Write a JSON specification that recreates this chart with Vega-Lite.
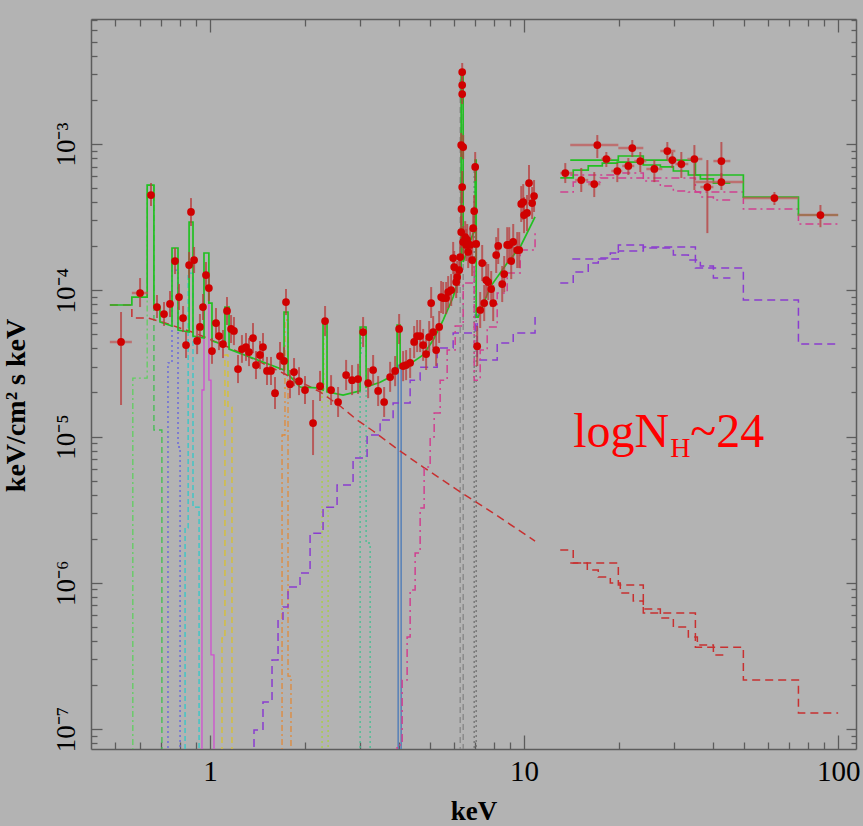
{
"$schema": "https://vega.github.io/schema/vega-lite/v6.json",
"width": 765, "height": 730,
"autosize": {"type": "none"},
"padding": {"left": 91, "top": 19, "right": 7, "bottom": 77},
"background": "#b3b3b3",
"config": {
 "view": {"stroke": null},
 "axis": {"labelFont": "Liberation Serif", "titleFont": "Liberation Serif", "domainColor": "#5c5c5c", "domainWidth": 1.5, "tickColor": "#5c5c5c", "tickWidth": 1.3, "grid": false, "labelColor": "#000000", "titleColor": "#000000"}
},
"datasets": {
"pts": [
{"x":0.521,"y":4.43e-5,"lo":1.642e-5,"hi":7.10e-5,"xl":0.480,"xh":0.564},
{"x":0.599,"y":9.58e-5,"lo":7.68e-5,"hi":1.212e-4,"xl":0.564,"xh":0.635},
{"x":0.649,"y":4.48e-4,"lo":3.77e-4,"hi":5.41e-4,"xl":0.631,"xh":0.663},
{"x":0.678,"y":7.68e-5,"lo":6.46e-5,"hi":9.28e-5},
{"x":0.714,"y":6.88e-5,"lo":5.70e-5,"hi":8.31e-5},
{"x":0.746,"y":8.06e-5,"lo":6.56e-5,"hi":9.88e-5},
{"x":0.774,"y":1.585e-4,"lo":1.291e-4,"hi":1.946e-4},
{"x":0.797,"y":8.99e-5,"lo":7.33e-5,"hi":1.103e-4},
{"x":0.821,"y":6.46e-5,"lo":5.18e-5,"hi":7.81e-5},
{"x":0.839,"y":4.22e-5,"lo":3.44e-5,"hi":5.18e-5},
{"x":0.858,"y":1.488e-4,"lo":1.212e-4,"hi":1.827e-4},
{"x":0.870,"y":3.43e-4,"lo":2.75e-4,"hi":4.27e-4},
{"x":0.890,"y":1.61e-4,"lo":1.312e-4,"hi":1.977e-4},
{"x":0.910,"y":4.50e-5,"lo":3.66e-5,"hi":5.52e-5},
{"x":0.929,"y":5.61e-5,"lo":4.57e-5,"hi":6.88e-5},
{"x":0.950,"y":7.68e-5,"lo":6.26e-5,"hi":9.43e-5},
{"x":0.971,"y":1.271e-4,"lo":1.036e-4,"hi":1.560e-4},
{"x":0.992,"y":1.036e-4,"lo":8.45e-5,"hi":1.271e-4},
{"x":1.0148,"y":3.84e-5,"lo":3.14e-5,"hi":4.71e-5},
{"x":1.045,"y":5.97e-5,"lo":4.71e-5,"hi":7.56e-5},
{"x":1.068,"y":4.86e-5,"lo":3.90e-5,"hi":6.07e-5},
{"x":1.100,"y":4.29e-5,"lo":3.44e-5,"hi":5.35e-5},
{"x":1.133,"y":7.22e-5,"lo":5.79e-5,"hi":8.99e-5},
{"x":1.167,"y":5.44e-5,"lo":4.36e-5,"hi":6.77e-5},
{"x":1.192,"y":5.27e-5,"lo":4.22e-5,"hi":6.56e-5},
{"x":1.228,"y":2.89e-5,"lo":2.32e-5,"hi":3.61e-5},
{"x":1.264,"y":3.96e-5,"lo":3.19e-5,"hi":4.94e-5},
{"x":1.302,"y":4.09e-5,"lo":3.29e-5,"hi":5.10e-5},
{"x":1.331,"y":3.78e-5,"lo":3.03e-5,"hi":4.71e-5},
{"x":1.371,"y":4.71e-5,"lo":3.72e-5,"hi":5.97e-5},
{"x":1.401,"y":3.08e-5,"lo":2.47e-5,"hi":3.84e-5},
{"x":1.443,"y":3.61e-5,"lo":2.89e-5,"hi":4.50e-5},
{"x":1.475,"y":4.09e-5,"lo":3.29e-5,"hi":5.10e-5},
{"x":1.519,"y":2.81e-5,"lo":2.25e-5,"hi":3.50e-5},
{"x":1.564,"y":2.81e-5,"lo":2.25e-5,"hi":3.50e-5},
{"x":1.611,"y":1.98e-5,"lo":1.542e-5,"hi":2.55e-5},
{"x":1.671,"y":3.55e-5,"lo":2.85e-5,"hi":4.43e-5},
{"x":1.721,"y":3.29e-5,"lo":2.63e-5,"hi":4.09e-5},
{"x":1.746,"y":8.31e-5,"lo":6.77e-5,"hi":1.020e-4},
{"x":1.798,"y":2.28e-5,"lo":1.83e-5,"hi":2.85e-5},
{"x":1.852,"y":2.76e-5,"lo":2.21e-5,"hi":3.44e-5},
{"x":1.921,"y":2.39e-5,"lo":1.92e-5,"hi":2.98e-5},
{"x":2.007,"y":2.08e-5,"lo":1.669e-5,"hi":2.59e-5},
{"x":2.129,"y":1.237e-5,"lo":7.47e-6,"hi":1.777e-5},
{"x":2.241,"y":2.21e-5,"lo":1.749e-5,"hi":2.81e-5},
{"x":2.325,"y":6.16e-5,"lo":4.86e-5,"hi":7.81e-5},
{"x":2.430,"y":2.08e-5,"lo":1.642e-5,"hi":2.63e-5},
{"x":2.558,"y":1.722e-5,"lo":1.360e-5,"hi":2.18e-5},
{"x":2.713,"y":2.63e-5,"lo":2.08e-5,"hi":3.34e-5},
{"x":2.834,"y":2.43e-5,"lo":1.92e-5,"hi":3.08e-5},
{"x":2.962,"y":2.47e-5,"lo":1.953e-5,"hi":3.14e-5},
{"x":3.073,"y":5.18e-5,"lo":4.09e-5,"hi":6.56e-5},
{"x":3.188,"y":2.32e-5,"lo":1.83e-5,"hi":2.94e-5},
{"x":3.307,"y":2.85e-5,"lo":2.25e-5,"hi":3.61e-5},
{"x":3.431,"y":2.05e-5,"lo":1.616e-5,"hi":2.59e-5},
{"x":3.585,"y":1.722e-5,"lo":1.360e-5,"hi":2.18e-5},
{"x":3.746,"y":2.55e-5,"lo":2.02e-5,"hi":3.24e-5},
{"x":3.886,"y":2.81e-5,"lo":2.21e-5,"hi":3.55e-5},
{"x":4.002,"y":5.44e-5,"lo":4.29e-5,"hi":6.88e-5},
{"x":4.120,"y":3.03e-5,"lo":2.39e-5,"hi":3.84e-5},
{"x":4.212,"y":3.08e-5,"lo":2.43e-5,"hi":3.90e-5},
{"x":4.338,"y":3.19e-5,"lo":2.51e-5,"hi":4.03e-5},
{"x":4.467,"y":4.43e-5,"lo":3.44e-5,"hi":5.70e-5},
{"x":4.567,"y":4.86e-5,"lo":3.78e-5,"hi":6.26e-5},
{"x":4.668,"y":4.86e-5,"lo":3.78e-5,"hi":6.26e-5},
{"x":4.772,"y":4.22e-5,"lo":3.29e-5,"hi":5.44e-5},
{"x":4.878,"y":3.66e-5,"lo":2.85e-5,"hi":4.71e-5},
{"x":4.987,"y":4.79e-5,"lo":3.72e-5,"hi":6.16e-5},
{"x":5.061,"y":8.18e-5,"lo":6.46e-5,"hi":1.052e-4},
{"x":5.136,"y":5.18e-5,"lo":4.03e-5,"hi":6.66e-5},
{"x":5.250,"y":3.90e-5,"lo":3.03e-5,"hi":5.02e-5},
{"x":5.367,"y":5.61e-5,"lo":4.36e-5,"hi":7.22e-5},
{"x":5.446,"y":8.99e-5,"lo":6.99e-5,"hi":1.157e-4},
{"x":5.526,"y":8.85e-5,"lo":6.88e-5,"hi":1.139e-4},
{"x":5.649,"y":8.85e-5,"lo":6.88e-5,"hi":1.139e-4},
{"x":5.733,"y":9.73e-5,"lo":7.56e-5,"hi":1.251e-4},
{"x":5.861,"y":1.004e-4,"lo":7.81e-5,"hi":1.291e-4},
{"x":5.947,"y":1.662e-4,"lo":1.291e-4,"hi":2.14e-4},
{"x":5.991,"y":1.442e-4,"lo":1.121e-4,"hi":1.856e-4},
{"x":6.080,"y":1.139e-4,"lo":8.85e-5,"hi":1.465e-4},
{"x":6.125,"y":1.232e-4,"lo":9.58e-5,"hi":1.585e-4},
{"x":6.215,"y":1.375e-4,"lo":1.069e-4,"hi":1.770e-4},
{"x":6.261,"y":1.688e-4,"lo":1.312e-4,"hi":2.176e-4},
{"x":6.307,"y":2.50e-4,"lo":1.946e-4,"hi":3.22e-4},
{"x":6.320,"y":3.60e-4,"lo":2.79e-4,"hi":4.70e-4},
{"x":6.354,"y":5.08e-4,"lo":3.95e-4,"hi":6.54e-4},
{"x":6.307,"y":9.84e-4,"lo":8.15e-4,"hi":1.190e-3},
{"x":6.400,"y":9.54e-4,"lo":7.90e-4,"hi":1.152e-3},
{"x":6.354,"y":2.197e-3,"lo":1.878e-3,"hi":2.572e-3},
{"x":6.354,"y":2.532e-3,"lo":2.163e-3,"hi":2.963e-3},
{"x":6.354,"y":3.107e-3,"lo":2.654e-3,"hi":3.580e-3},
{"x":6.400,"y":2.14e-4,"lo":1.662e-4,"hi":2.75e-4},
{"x":6.495,"y":2.311e-4,"lo":1.798e-4,"hi":2.97e-4},
{"x":6.543,"y":2.04e-4,"lo":1.585e-4,"hi":2.62e-4},
{"x":6.591,"y":2.21e-4,"lo":1.715e-4,"hi":2.84e-4},
{"x":6.640,"y":1.827e-4,"lo":1.419e-4,"hi":2.348e-4},
{"x":6.737,"y":2.04e-4,"lo":1.585e-4,"hi":2.62e-4},
{"x":6.837,"y":1.61e-4,"lo":1.251e-4,"hi":2.075e-4},
{"x":6.887,"y":2.66e-4,"lo":2.075e-4,"hi":3.43e-4},
{"x":6.938,"y":3.48e-4,"lo":2.70e-4,"hi":4.48e-4},
{"x":6.989,"y":6.97e-4,"lo":5.58e-4,"hi":8.82e-4},
{"x":7.040,"y":2.075e-4,"lo":1.61e-4,"hi":2.66e-4},
{"x":7.092,"y":4.15e-5,"lo":3.03e-5,"hi":5.70e-5},
{"x":7.25,"y":7.33e-5,"lo":5.52e-5,"hi":9.73e-5},
{"x":7.357,"y":1.536e-4,"lo":1.157e-4,"hi":2.04e-4},
{"x":7.466,"y":8.18e-5,"lo":6.16e-5,"hi":1.086e-4},
{"x":7.576,"y":1.175e-4,"lo":8.85e-5,"hi":1.560e-4},
{"x":7.689,"y":1.139e-4,"lo":8.58e-5,"hi":1.512e-4},
{"x":7.860,"y":1.020e-4,"lo":7.68e-5,"hi":1.354e-4},
{"x":7.975,"y":8.18e-5,"lo":6.16e-5,"hi":1.086e-4},
{"x":8.153,"y":1.742e-4,"lo":1.312e-4,"hi":2.311e-4},
{"x":8.274,"y":2.008e-4,"lo":1.512e-4,"hi":2.66e-4},
{"x":8.520,"y":1.103e-4,"lo":8.31e-5,"hi":1.465e-4},
{"x":8.646,"y":1.291e-4,"lo":9.73e-5,"hi":1.715e-4},
{"x":8.838,"y":2.04e-4,"lo":1.536e-4,"hi":2.70e-4},
{"x":8.969,"y":2.04e-4,"lo":1.536e-4,"hi":2.70e-4},
{"x":9.102,"y":1.585e-4,"lo":1.193e-4,"hi":2.108e-4},
{"x":9.236,"y":2.14e-4,"lo":1.61e-4,"hi":2.84e-4},
{"x":9.511,"y":1.885e-4,"lo":1.419e-4,"hi":2.50e-4},
{"x":9.652,"y":1.885e-4,"lo":1.419e-4,"hi":2.50e-4},
{"x":9.795,"y":3.89e-4,"lo":2.93e-4,"hi":5.16e-4},
{"x":9.939,"y":4.01e-4,"lo":3.02e-4,"hi":5.32e-4},
{"x":10.0,"y":3.27e-4,"lo":2.46e-4,"hi":4.34e-4},
{"x":10.22,"y":3.38e-4,"lo":2.54e-4,"hi":4.48e-4},
{"x":10.37,"y":5.41e-4,"lo":4.08e-4,"hi":7.19e-4},
{"x":10.61,"y":3.95e-4,"lo":3.07e-4,"hi":5.08e-4},
{"x":10.76,"y":4.41e-4,"lo":3.43e-4,"hi":5.67e-4},
{"x":13.53,"y":6.33e-4,"lo":5.41e-4,"hi":7.41e-4,"xl":13.04,"xh":14.34},
{"x":15.21,"y":5.67e-4,"lo":4.70e-4,"hi":6.86e-4,"xl":14.55,"xh":16.01},
{"x":16.73,"y":5.32e-4,"lo":4.34e-4,"hi":6.43e-4,"xl":16.01,"xh":17.49},
{"x":17.11,"y":9.84e-4,"lo":8.02e-4,"hi":1.152e-3,"xl":14.03,"xh":19.96},
{"x":18.28,"y":7.90e-4,"lo":6.97e-4,"hi":8.82e-4,"xl":17.62,"xh":18.96},
{"x":19.81,"y":6.54e-4,"lo":5.49e-4,"hi":7.41e-4,"xl":18.96,"xh":20.55},
{"x":21.48,"y":7.08e-4,"lo":6.14e-4,"hi":8.02e-4,"xl":20.55,"xh":22.44},
{"x":22.11,"y":9.39e-4,"lo":8.15e-4,"hi":1.065e-3,"xl":19.96,"xh":23.97},
{"x":23.45,"y":7.65e-4,"lo":6.43e-4,"hi":8.82e-4,"xl":22.44,"xh":24.51},
{"x":25.99,"y":6.75e-4,"lo":5.49e-4,"hi":7.77e-4,"xl":24.51,"xh":27.56},
{"x":28.59,"y":8.96e-4,"lo":7.77e-4,"hi":1.032e-3,"xl":27.16,"xh":30.32},
{"x":29.66,"y":7.77e-4,"lo":6.86e-4,"hi":8.82e-4,"xl":28.59,"xh":30.77},
{"x":31.68,"y":7.30e-4,"lo":5.86e-4,"hi":8.82e-4,"xl":30.32,"xh":33.35},
{"x":34.86,"y":7.90e-4,"lo":4.85e-4,"hi":9.84e-4,"xl":33.11,"xh":36.96},
{"x":38.34,"y":5.08e-4,"lo":2.46e-4,"hi":7.77e-4,"xl":36.42,"xh":40.07},
{"x":42.49,"y":7.65e-4,"lo":5.41e-4,"hi":1.032e-3,"xl":40.07,"xh":45.39},
{"x":42.49,"y":5.49e-4,"lo":4.85e-4,"hi":6.33e-4,"xl":35.12,"xh":49.92},
{"x":62.68,"y":4.27e-4,"lo":3.83e-4,"hi":4.70e-4,"xl":49.92,"xh":74.75},
{"x":87.84,"y":3.27e-4,"lo":2.70e-4,"hi":3.83e-4,"xl":74.75,"xh":100}
],
"mdl": [
{"g":"c","s":"c1","i":0,"x":0.568,"y":5e-8},{"g":"c","s":"c1","i":1,"x":0.568,"y":2.51e-5},{"g":"c","s":"c1","i":2,"x":0.631,"y":2.51e-5},{"g":"c","s":"c1","i":3,"x":0.631,"y":5.24e-4},{"g":"c","s":"c1","i":4,"x":0.663,"y":5.24e-4},
{"g":"c","s":"c2","i":0,"x":0.663,"y":5.24e-4},{"g":"c","s":"c2","i":1,"x":0.663,"y":1.108e-5},{"g":"c","s":"c2","i":2,"x":0.703,"y":1.108e-5},{"g":"c","s":"c2","i":3,"x":0.703,"y":5e-8},
{"g":"c","s":"c3","i":0,"x":0.735,"y":5e-8},{"g":"c","s":"c3","i":1,"x":0.735,"y":3.19e-5},{"g":"c","s":"c3","i":2,"x":0.757,"y":3.19e-5},{"g":"c","s":"c3","i":3,"x":0.757,"y":1.375e-4},{"g":"c","s":"c3","i":4,"x":0.791,"y":1.375e-4},{"g":"c","s":"c3","i":5,"x":0.791,"y":8.48e-6},{"g":"c","s":"c3","i":6,"x":0.803,"y":8.48e-6},{"g":"c","s":"c3","i":7,"x":0.803,"y":5e-8},
{"g":"c","s":"c4","i":0,"x":0.833,"y":5e-8},{"g":"c","s":"c4","i":1,"x":0.833,"y":2.37e-6},{"g":"c","s":"c4","i":2,"x":0.852,"y":2.37e-6},{"g":"c","s":"c4","i":3,"x":0.852,"y":1.312e-4},{"g":"c","s":"c4","i":4,"x":0.883,"y":1.312e-4},{"g":"c","s":"c4","i":5,"x":0.883,"y":3.29e-6},{"g":"c","s":"c4","i":6,"x":0.923,"y":3.29e-6},{"g":"c","s":"c4","i":7,"x":0.923,"y":5e-8},
{"g":"c","s":"c5","i":0,"x":0.943,"y":5e-8},{"g":"c","s":"c5","i":1,"x":0.943,"y":2.08e-5},{"g":"c","s":"c5","i":2,"x":0.957,"y":2.08e-5},{"g":"c","s":"c5","i":3,"x":0.957,"y":1.312e-4},{"g":"c","s":"c5","i":4,"x":0.992,"y":1.312e-4},{"g":"c","s":"c5","i":5,"x":0.992,"y":2.43e-5},{"g":"c","s":"c5","i":6,"x":1.0074,"y":2.43e-5},{"g":"c","s":"c5","i":7,"x":1.0074,"y":3.21e-7},{"g":"c","s":"c5","i":8,"x":1.0298,"y":3.21e-7},{"g":"c","s":"c5","i":9,"x":1.0298,"y":5e-8},
{"g":"c","s":"c6","i":0,"x":1.092,"y":5e-8},{"g":"c","s":"c6","i":1,"x":1.092,"y":4.19e-7},{"g":"c","s":"c6","i":2,"x":1.116,"y":4.19e-7},{"g":"c","s":"c6","i":3,"x":1.116,"y":3.61e-5},{"g":"c","s":"c6","i":4,"x":1.141,"y":3.61e-5},{"g":"c","s":"c6","i":5,"x":1.141,"y":1.591e-5},{"g":"c","s":"c6","i":6,"x":1.175,"y":1.591e-5},{"g":"c","s":"c6","i":7,"x":1.175,"y":5e-8},
{"g":"c","s":"c7","i":0,"x":1.696,"y":5e-8},{"g":"c","s":"c7","i":1,"x":1.696,"y":1.024e-5},{"g":"c","s":"c7","i":2,"x":1.733,"y":1.024e-5},{"g":"c","s":"c7","i":3,"x":1.733,"y":6.26e-5},{"g":"c","s":"c7","i":4,"x":1.772,"y":6.26e-5},{"g":"c","s":"c7","i":5,"x":1.772,"y":2.30e-7},{"g":"c","s":"c7","i":6,"x":1.811,"y":2.30e-7},{"g":"c","s":"c7","i":7,"x":1.811,"y":5e-8},
{"g":"c","s":"c8","i":0,"x":2.274,"y":5e-8},{"g":"c","s":"c8","i":1,"x":2.274,"y":2.02e-5},{"g":"c","s":"c8","i":2,"x":2.308,"y":2.02e-5},{"g":"c","s":"c8","i":3,"x":2.308,"y":6.07e-5},{"g":"c","s":"c8","i":4,"x":2.359,"y":6.07e-5},{"g":"c","s":"c8","i":5,"x":2.359,"y":2.02e-5},{"g":"c","s":"c8","i":6,"x":2.377,"y":2.02e-5},{"g":"c","s":"c8","i":7,"x":2.377,"y":5e-8},
{"g":"c","s":"c9","i":0,"x":3.006,"y":5e-8},{"g":"c","s":"c9","i":1,"x":3.006,"y":3.50e-5},{"g":"c","s":"c9","i":2,"x":3.028,"y":3.50e-5},{"g":"c","s":"c9","i":3,"x":3.028,"y":5.61e-5},{"g":"c","s":"c9","i":4,"x":3.141,"y":5.61e-5},{"g":"c","s":"c9","i":5,"x":3.141,"y":1.870e-6},{"g":"c","s":"c9","i":6,"x":3.235,"y":1.870e-6},{"g":"c","s":"c9","i":7,"x":3.235,"y":5e-8},
{"g":"c","s":"c10","i":0,"x":3.973,"y":5e-8},{"g":"c","s":"c10","i":1,"x":3.973,"y":3.08e-5},{"g":"c","s":"c10","i":2,"x":4.061,"y":3.08e-5},{"g":"c","s":"c10","i":3,"x":4.061,"y":5e-8},
{"g":"c","s":"c11","i":0,"x":6.261,"y":5e-8},{"g":"c","s":"c11","i":1,"x":6.261,"y":2.739e-3},{"g":"c","s":"c11","i":2,"x":6.400,"y":2.739e-3},{"g":"c","s":"c11","i":3,"x":6.400,"y":5e-8},
{"g":"c","s":"c12","i":0,"x":6.938,"y":5e-8},{"g":"c","s":"c12","i":1,"x":6.938,"y":7.19e-4},{"g":"c","s":"c12","i":2,"x":7.040,"y":7.19e-4},{"g":"c","s":"c12","i":3,"x":7.040,"y":5e-8},

{"g":"pl","s":"p0","i":0,"x":0.480,"y":7.93e-5},{"g":"pl","s":"p0","i":1,"x":0.564,"y":7.93e-5},{"g":"pl","s":"p0","i":2,"x":0.564,"y":6.46e-5},{"g":"pl","s":"p0","i":3,"x":0.635,"y":6.46e-5},{"g":"pl","s":"p0","i":4,"x":0.703,"y":6.07e-5},{"g":"pl","s":"p0","i":5,"x":0.896,"y":5.10e-5},{"g":"pl","s":"p0","i":6,"x":1.141,"y":4.09e-5},{"g":"pl","s":"p0","i":7,"x":1.464,"y":3.19e-5},{"g":"pl","s":"p0","i":8,"x":1.865,"y":2.47e-5},{"g":"pl","s":"p0","i":9,"x":2.241,"y":2.02e-5},{"g":"pl","s":"p0","i":10,"x":2.596,"y":1.616e-5},{"g":"pl","s":"p0","i":11,"x":2.940,"y":1.297e-5},{"g":"pl","s":"p0","i":12,"x":3.307,"y":1.091e-5},{"g":"pl","s":"p0","i":13,"x":3.943,"y":8.22e-6},{"g":"pl","s":"p0","i":14,"x":4.772,"y":6.18e-6},{"g":"pl","s":"p0","i":15,"x":6.125,"y":4.31e-6},{"g":"pl","s":"p0","i":16,"x":7.802,"y":3.09e-6},{"g":"pl","s":"p0","i":17,"x":10.84,"y":1.93e-6},
{"g":"pl","s":"p1","i":0,"x":13.04,"y":1.675e-6},{"g":"pl","s":"p1","i":1,"x":14.34,"y":1.675e-6},{"g":"pl","s":"p1","i":2,"x":14.34,"y":1.364e-6},{"g":"pl","s":"p1","i":3,"x":15.90,"y":1.364e-6},{"g":"pl","s":"p1","i":4,"x":15.90,"y":1.222e-6},{"g":"pl","s":"p1","i":5,"x":17.23,"y":1.222e-6},{"g":"pl","s":"p1","i":6,"x":17.23,"y":1.095e-6},{"g":"pl","s":"p1","i":7,"x":18.82,"y":1.095e-6},{"g":"pl","s":"p1","i":8,"x":18.82,"y":9.96e-7},{"g":"pl","s":"p1","i":9,"x":20.25,"y":9.96e-7},{"g":"pl","s":"p1","i":10,"x":20.25,"y":8.51e-7},{"g":"pl","s":"p1","i":11,"x":22.27,"y":8.51e-7},{"g":"pl","s":"p1","i":12,"x":22.27,"y":7.50e-7},{"g":"pl","s":"p1","i":13,"x":23.97,"y":7.50e-7},{"g":"pl","s":"p1","i":14,"x":23.97,"y":6.62e-7},{"g":"pl","s":"p1","i":15,"x":27.16,"y":6.62e-7},{"g":"pl","s":"p1","i":16,"x":27.16,"y":5.74e-7},{"g":"pl","s":"p1","i":17,"x":29.88,"y":5.74e-7},{"g":"pl","s":"p1","i":18,"x":29.88,"y":4.98e-7},{"g":"pl","s":"p1","i":19,"x":33.35,"y":4.98e-7},{"g":"pl","s":"p1","i":20,"x":33.35,"y":4.25e-7},{"g":"pl","s":"p1","i":21,"x":35.63,"y":4.25e-7},{"g":"pl","s":"p1","i":22,"x":35.63,"y":3.75e-7},{"g":"pl","s":"p1","i":23,"x":40.07,"y":3.75e-7},{"g":"pl","s":"p1","i":24,"x":40.07,"y":3.21e-7},{"g":"pl","s":"p1","i":25,"x":43.76,"y":3.21e-7},
{"g":"pl","s":"p2","i":0,"x":14.03,"y":1.364e-6},{"g":"pl","s":"p2","i":1,"x":19.96,"y":1.364e-6},{"g":"pl","s":"p2","i":2,"x":19.96,"y":9.65e-7},{"g":"pl","s":"p2","i":3,"x":23.97,"y":9.65e-7},{"g":"pl","s":"p2","i":4,"x":23.97,"y":6.21e-7},{"g":"pl","s":"p2","i":5,"x":35.12,"y":6.21e-7},{"g":"pl","s":"p2","i":6,"x":35.12,"y":3.63e-7},{"g":"pl","s":"p2","i":7,"x":49.92,"y":3.63e-7},{"g":"pl","s":"p2","i":8,"x":49.92,"y":2.16e-7},{"g":"pl","s":"p2","i":9,"x":74.75,"y":2.16e-7},{"g":"pl","s":"p2","i":10,"x":74.75,"y":1.288e-7},{"g":"pl","s":"p2","i":11,"x":100,"y":1.288e-7},

{"g":"abs","s":"a0","i":0,"x":1.381,"y":5e-8},{"g":"abs","s":"a0","i":1,"x":1.381,"y":9.84e-8},{"g":"abs","s":"a0","i":2,"x":1.475,"y":1.531e-7},{"g":"abs","s":"a0","i":3,"x":1.576,"y":2.96e-7},{"g":"abs","s":"a0","i":4,"x":1.647,"y":5.56e-7},{"g":"abs","s":"a0","i":5,"x":1.708,"y":6.83e-7},{"g":"abs","s":"a0","i":6,"x":1.772,"y":9.35e-7},{"g":"abs","s":"a0","i":7,"x":1.935,"y":1.166e-6},{"g":"abs","s":"a0","i":8,"x":2.083,"y":2.18e-6},{"g":"abs","s":"a0","i":9,"x":2.291,"y":3.29e-6},{"g":"abs","s":"a0","i":10,"x":2.539,"y":4.66e-6},{"g":"abs","s":"a0","i":11,"x":2.855,"y":7.13e-6},{"g":"abs","s":"a0","i":12,"x":3.164,"y":1.024e-5},{"g":"abs","s":"a0","i":13,"x":3.481,"y":1.297e-5},{"g":"abs","s":"a0","i":14,"x":3.829,"y":1.695e-5},{"g":"abs","s":"a0","i":15,"x":4.338,"y":2.43e-5},{"g":"abs","s":"a0","i":16,"x":4.668,"y":2.98e-5},{"g":"abs","s":"a0","i":17,"x":5.289,"y":4.03e-5},{"g":"abs","s":"a0","i":18,"x":5.947,"y":5.10e-5},{"g":"abs","s":"a0","i":19,"x":6.989,"y":6.77e-5},{"g":"abs","s":"a0","i":20,"x":7.092,"y":3.34e-5},{"g":"abs","s":"a0","i":21,"x":8.213,"y":4.36e-5},{"g":"abs","s":"a0","i":22,"x":9.236,"y":5.10e-5},{"g":"abs","s":"a0","i":23,"x":10.84,"y":6.56e-5},
{"g":"abs","s":"a1","i":0,"x":13.04,"y":1.121e-4},{"g":"abs","s":"a1","i":1,"x":14.34,"y":1.121e-4},{"g":"abs","s":"a1","i":2,"x":14.34,"y":1.332e-4},{"g":"abs","s":"a1","i":3,"x":16.01,"y":1.332e-4},{"g":"abs","s":"a1","i":4,"x":16.01,"y":1.536e-4},{"g":"abs","s":"a1","i":5,"x":17.23,"y":1.536e-4},{"g":"abs","s":"a1","i":6,"x":17.23,"y":1.662e-4},{"g":"abs","s":"a1","i":7,"x":18.82,"y":1.662e-4},{"g":"abs","s":"a1","i":8,"x":18.82,"y":1.798e-4},{"g":"abs","s":"a1","i":9,"x":19.96,"y":1.798e-4},{"g":"abs","s":"a1","i":10,"x":19.96,"y":2.04e-4},{"g":"abs","s":"a1","i":11,"x":23.97,"y":2.04e-4},{"g":"abs","s":"a1","i":12,"x":23.97,"y":1.946e-4},{"g":"abs","s":"a1","i":13,"x":29.88,"y":1.946e-4},{"g":"abs","s":"a1","i":14,"x":29.88,"y":1.742e-4},{"g":"abs","s":"a1","i":15,"x":33.35,"y":1.742e-4},{"g":"abs","s":"a1","i":16,"x":33.35,"y":1.61e-4},{"g":"abs","s":"a1","i":17,"x":36.42,"y":1.61e-4},{"g":"abs","s":"a1","i":18,"x":36.42,"y":1.465e-4},{"g":"abs","s":"a1","i":19,"x":40.07,"y":1.465e-4},{"g":"abs","s":"a1","i":20,"x":40.07,"y":1.212e-4},{"g":"abs","s":"a1","i":21,"x":45.39,"y":1.212e-4},
{"g":"abs","s":"a2","i":0,"x":14.24,"y":1.636e-4},{"g":"abs","s":"a2","i":1,"x":19.96,"y":1.636e-4},{"g":"abs","s":"a2","i":2,"x":19.96,"y":1.856e-4},{"g":"abs","s":"a2","i":3,"x":23.97,"y":1.856e-4},{"g":"abs","s":"a2","i":4,"x":23.97,"y":1.977e-4},{"g":"abs","s":"a2","i":5,"x":35.12,"y":1.977e-4},{"g":"abs","s":"a2","i":6,"x":35.12,"y":1.419e-4},{"g":"abs","s":"a2","i":7,"x":49.92,"y":1.419e-4},{"g":"abs","s":"a2","i":8,"x":49.92,"y":8.58e-5},{"g":"abs","s":"a2","i":9,"x":74.75,"y":8.58e-5},{"g":"abs","s":"a2","i":10,"x":74.75,"y":4.29e-5},{"g":"abs","s":"a2","i":11,"x":100,"y":4.29e-5},

{"g":"ref","s":"r0","i":0,"x":3.943,"y":5e-8},{"g":"ref","s":"r0","i":1,"x":3.943,"y":7.77e-8},{"g":"ref","s":"r0","i":2,"x":4.091,"y":2.16e-7},{"g":"ref","s":"r0","i":3,"x":4.243,"y":4.25e-7},{"g":"ref","s":"r0","i":4,"x":4.338,"y":8.92e-7},{"g":"ref","s":"r0","i":5,"x":4.500,"y":1.598e-6},{"g":"ref","s":"r0","i":6,"x":4.668,"y":3.24e-6},{"g":"ref","s":"r0","i":7,"x":4.807,"y":6.18e-6},{"g":"ref","s":"r0","i":8,"x":5.024,"y":9.92e-6},{"g":"ref","s":"r0","i":9,"x":5.174,"y":1.448e-5},{"g":"ref","s":"r0","i":10,"x":5.406,"y":2.43e-5},{"g":"ref","s":"r0","i":11,"x":5.691,"y":3.90e-5},{"g":"ref","s":"r0","i":12,"x":6.036,"y":5.70e-5},{"g":"ref","s":"r0","i":13,"x":6.400,"y":1.121e-4},{"g":"ref","s":"r0","i":14,"x":6.938,"y":1.560e-4},{"g":"ref","s":"r0","i":15,"x":6.938,"y":2.43e-5},{"g":"ref","s":"r0","i":16,"x":7.25,"y":3.90e-5},{"g":"ref","s":"r0","i":17,"x":7.632,"y":5.61e-5},{"g":"ref","s":"r0","i":18,"x":8.213,"y":9.58e-5},{"g":"ref","s":"r0","i":19,"x":8.838,"y":1.312e-4},{"g":"ref","s":"r0","i":20,"x":9.723,"y":1.885e-4},{"g":"ref","s":"r0","i":21,"x":10.84,"y":2.50e-4},
{"g":"ref","s":"r1","i":0,"x":13.04,"y":4.70e-4},{"g":"ref","s":"r1","i":1,"x":14.34,"y":4.70e-4},{"g":"ref","s":"r1","i":2,"x":14.34,"y":5.49e-4},{"g":"ref","s":"r1","i":3,"x":17.49,"y":5.49e-4},{"g":"ref","s":"r1","i":4,"x":17.49,"y":5.86e-4},{"g":"ref","s":"r1","i":5,"x":23.97,"y":5.86e-4},{"g":"ref","s":"r1","i":6,"x":23.97,"y":5.58e-4},{"g":"ref","s":"r1","i":7,"x":27.16,"y":5.58e-4},{"g":"ref","s":"r1","i":8,"x":27.16,"y":5.16e-4},{"g":"ref","s":"r1","i":9,"x":29.88,"y":5.16e-4},{"g":"ref","s":"r1","i":10,"x":29.88,"y":4.77e-4},{"g":"ref","s":"r1","i":11,"x":33.35,"y":4.77e-4},{"g":"ref","s":"r1","i":12,"x":33.35,"y":4.70e-4},{"g":"ref","s":"r1","i":13,"x":36.42,"y":4.70e-4},{"g":"ref","s":"r1","i":14,"x":36.42,"y":4.34e-4},{"g":"ref","s":"r1","i":15,"x":40.07,"y":4.34e-4},{"g":"ref","s":"r1","i":16,"x":40.07,"y":4.14e-4},{"g":"ref","s":"r1","i":17,"x":45.39,"y":4.14e-4},
{"g":"ref","s":"r2","i":0,"x":14.03,"y":6.14e-4},{"g":"ref","s":"r2","i":1,"x":19.96,"y":6.14e-4},{"g":"ref","s":"r2","i":2,"x":19.96,"y":6.33e-4},{"g":"ref","s":"r2","i":3,"x":23.97,"y":6.33e-4},{"g":"ref","s":"r2","i":4,"x":23.97,"y":5.86e-4},{"g":"ref","s":"r2","i":5,"x":35.12,"y":5.86e-4},{"g":"ref","s":"r2","i":6,"x":35.12,"y":4.70e-4},{"g":"ref","s":"r2","i":7,"x":49.92,"y":4.70e-4},{"g":"ref","s":"r2","i":8,"x":49.92,"y":3.60e-4},{"g":"ref","s":"r2","i":9,"x":74.75,"y":3.60e-4},{"g":"ref","s":"r2","i":10,"x":74.75,"y":2.84e-4},{"g":"ref","s":"r2","i":11,"x":100,"y":2.84e-4},

{"g":"tot","s":"t0","i":0,"x":0.480,"y":7.93e-5},{"g":"tot","s":"t0","i":1,"x":0.564,"y":7.93e-5},{"g":"tot","s":"t0","i":2,"x":0.564,"y":8.99e-5},{"g":"tot","s":"t0","i":3,"x":0.631,"y":8.99e-5},{"g":"tot","s":"t0","i":4,"x":0.631,"y":5.24e-4},{"g":"tot","s":"t0","i":5,"x":0.663,"y":5.24e-4},{"g":"tot","s":"t0","i":6,"x":0.663,"y":7.68e-5},{"g":"tot","s":"t0","i":7,"x":0.693,"y":7.68e-5},{"g":"tot","s":"t0","i":8,"x":0.693,"y":6.07e-5},{"g":"tot","s":"t0","i":9,"x":0.757,"y":5.70e-5},{"g":"tot","s":"t0","i":10,"x":0.757,"y":1.946e-4},{"g":"tot","s":"t0","i":11,"x":0.791,"y":1.946e-4},{"g":"tot","s":"t0","i":12,"x":0.791,"y":5.35e-5},{"g":"tot","s":"t0","i":13,"x":0.858,"y":5.18e-5},{"g":"tot","s":"t0","i":14,"x":0.858,"y":2.93e-4},{"g":"tot","s":"t0","i":15,"x":0.883,"y":2.93e-4},{"g":"tot","s":"t0","i":16,"x":0.883,"y":4.86e-5},{"g":"tot","s":"t0","i":17,"x":0.957,"y":4.71e-5},{"g":"tot","s":"t0","i":18,"x":0.957,"y":1.798e-4},{"g":"tot","s":"t0","i":19,"x":0.992,"y":1.798e-4},{"g":"tot","s":"t0","i":20,"x":0.992,"y":8.18e-5},{"g":"tot","s":"t0","i":21,"x":1.0148,"y":8.18e-5},{"g":"tot","s":"t0","i":22,"x":1.0148,"y":4.50e-5},{"g":"tot","s":"t0","i":23,"x":1.116,"y":4.22e-5},{"g":"tot","s":"t0","i":24,"x":1.116,"y":7.68e-5},{"g":"tot","s":"t0","i":25,"x":1.150,"y":7.68e-5},{"g":"tot","s":"t0","i":26,"x":1.150,"y":3.96e-5},{"g":"tot","s":"t0","i":27,"x":1.721,"y":2.85e-5},{"g":"tot","s":"t0","i":28,"x":1.721,"y":7.10e-5},{"g":"tot","s":"t0","i":29,"x":1.772,"y":7.10e-5},{"g":"tot","s":"t0","i":30,"x":1.772,"y":2.67e-5},{"g":"tot","s":"t0","i":31,"x":1.935,"y":2.18e-5},{"g":"tot","s":"t0","i":32,"x":2.193,"y":2.15e-5},{"g":"tot","s":"t0","i":33,"x":2.291,"y":2.08e-5},{"g":"tot","s":"t0","i":34,"x":2.291,"y":6.26e-5},{"g":"tot","s":"t0","i":35,"x":2.359,"y":6.26e-5},{"g":"tot","s":"t0","i":36,"x":2.359,"y":2.02e-5},{"g":"tot","s":"t0","i":37,"x":2.654,"y":1.92e-5},{"g":"tot","s":"t0","i":38,"x":3.006,"y":2.05e-5},{"g":"tot","s":"t0","i":39,"x":3.006,"y":5.61e-5},{"g":"tot","s":"t0","i":40,"x":3.141,"y":5.61e-5},{"g":"tot","s":"t0","i":41,"x":3.141,"y":2.18e-5},{"g":"tot","s":"t0","i":42,"x":3.481,"y":2.35e-5},{"g":"tot","s":"t0","i":43,"x":3.746,"y":2.55e-5},{"g":"tot","s":"t0","i":44,"x":3.943,"y":2.85e-5},{"g":"tot","s":"t0","i":45,"x":3.943,"y":5.79e-5},{"g":"tot","s":"t0","i":46,"x":4.031,"y":5.79e-5},{"g":"tot","s":"t0","i":47,"x":4.031,"y":2.94e-5},{"g":"tot","s":"t0","i":48,"x":4.434,"y":3.24e-5},{"g":"tot","s":"t0","i":49,"x":4.772,"y":3.61e-5},{"g":"tot","s":"t0","i":50,"x":5.136,"y":4.57e-5},{"g":"tot","s":"t0","i":51,"x":5.526,"y":6.26e-5},{"g":"tot","s":"t0","i":52,"x":5.947,"y":8.99e-5},{"g":"tot","s":"t0","i":53,"x":6.307,"y":1.375e-4},{"g":"tot","s":"t0","i":54,"x":6.307,"y":3.107e-3},{"g":"tot","s":"t0","i":55,"x":6.400,"y":3.107e-3},{"g":"tot","s":"t0","i":56,"x":6.400,"y":1.560e-4},{"g":"tot","s":"t0","i":57,"x":6.887,"y":2.46e-4},{"g":"tot","s":"t0","i":58,"x":6.989,"y":2.50e-4},{"g":"tot","s":"t0","i":59,"x":6.989,"y":7.77e-4},{"g":"tot","s":"t0","i":60,"x":7.040,"y":7.77e-4},{"g":"tot","s":"t0","i":61,"x":7.040,"y":6.56e-5},{"g":"tot","s":"t0","i":62,"x":7.145,"y":6.56e-5},{"g":"tot","s":"t0","i":63,"x":7.802,"y":1.052e-4},{"g":"tot","s":"t0","i":64,"x":8.838,"y":1.536e-4},{"g":"tot","s":"t0","i":65,"x":9.723,"y":1.977e-4},{"g":"tot","s":"t0","i":66,"x":10.84,"y":3.17e-4},
{"g":"tot","s":"t1","i":0,"x":13.04,"y":5.86e-4},{"g":"tot","s":"t1","i":1,"x":14.34,"y":5.86e-4},{"g":"tot","s":"t1","i":2,"x":14.34,"y":6.64e-4},{"g":"tot","s":"t1","i":3,"x":16.01,"y":6.64e-4},{"g":"tot","s":"t1","i":4,"x":16.01,"y":7.08e-4},{"g":"tot","s":"t1","i":5,"x":17.75,"y":7.08e-4},{"g":"tot","s":"t1","i":6,"x":17.75,"y":7.41e-4},{"g":"tot","s":"t1","i":7,"x":19.81,"y":7.41e-4},{"g":"tot","s":"t1","i":8,"x":19.81,"y":7.53e-4},{"g":"tot","s":"t1","i":9,"x":23.97,"y":7.53e-4},{"g":"tot","s":"t1","i":10,"x":23.97,"y":7.19e-4},{"g":"tot","s":"t1","i":11,"x":27.16,"y":7.19e-4},{"g":"tot","s":"t1","i":12,"x":27.16,"y":6.97e-4},{"g":"tot","s":"t1","i":13,"x":29.88,"y":6.97e-4},{"g":"tot","s":"t1","i":14,"x":29.88,"y":6.54e-4},{"g":"tot","s":"t1","i":15,"x":33.35,"y":6.54e-4},{"g":"tot","s":"t1","i":16,"x":33.35,"y":6.14e-4},{"g":"tot","s":"t1","i":17,"x":36.42,"y":6.14e-4},{"g":"tot","s":"t1","i":18,"x":36.42,"y":5.77e-4},{"g":"tot","s":"t1","i":19,"x":40.07,"y":5.77e-4},{"g":"tot","s":"t1","i":20,"x":40.07,"y":5.41e-4},{"g":"tot","s":"t1","i":21,"x":45.39,"y":5.41e-4},
{"g":"tot","s":"t2","i":0,"x":14.03,"y":7.77e-4},{"g":"tot","s":"t2","i":1,"x":19.96,"y":7.77e-4},{"g":"tot","s":"t2","i":2,"x":19.96,"y":8.28e-4},{"g":"tot","s":"t2","i":3,"x":23.97,"y":8.28e-4},{"g":"tot","s":"t2","i":4,"x":23.97,"y":7.77e-4},{"g":"tot","s":"t2","i":5,"x":35.12,"y":7.77e-4},{"g":"tot","s":"t2","i":6,"x":35.12,"y":6.14e-4},{"g":"tot","s":"t2","i":7,"x":49.92,"y":6.14e-4},{"g":"tot","s":"t2","i":8,"x":49.92,"y":4.34e-4},{"g":"tot","s":"t2","i":9,"x":74.75,"y":4.34e-4},{"g":"tot","s":"t2","i":10,"x":74.75,"y":3.27e-4},{"g":"tot","s":"t2","i":11,"x":100,"y":3.27e-4}
],
"lbl": [{"t":"logN","x":14.34,"y":8.48e-6},{"t":"~24","x":33.85,"y":8.48e-6}],
"sub": [{"t":"H","x":29.23,"y":7.24e-6}]
},
"layer": [
{
 "data": {"name": "mdl"},
 "transform": [{"filter": "datum.g == 'c'"}],
 "mark": {"type": "line", "clip": true, "strokeWidth": 1.3},
 "encoding": {
  "x": {"field": "x", "type": "quantitative", "scale": {"type": "log", "domain": [0.418, 114], "nice": false},
   "axis": {"orient": "bottom", "title": "keV", "titleFontSize": 27, "titleFontWeight": "bold", "titlePadding": 5, "labelFontSize": 29, "labelPadding": 22, "labelOverlap": false, "labelFlush": false, "labelBound": false, "tickCount": 30,
    "labelExpr": "datum.value == 1 ? '1' : datum.value == 10 ? '10' : datum.value == 100 ? '100' : ''",
    "tickSize": {"condition": {"test": "abs(log(datum.value)/LN10 - round(log(datum.value)/LN10)) < 0.001", "value": -14}, "value": -7}}},
  "y": {"field": "y", "type": "quantitative", "scale": {"type": "log", "domain": [7.3e-8, 7.16e-3], "nice": false},
   "axis": {"orient": "left", "title": "keV/cm² s keV", "titleFontSize": 28, "titleFontWeight": "bold", "titlePadding": 17, "titleY": 386, "labelFontSize": 27, "labelAngle": -90, "labelAlign": "center", "labelBaseline": "bottom", "labelPadding": 22, "labelOverlap": false, "labelFlush": false, "tickCount": 30,
    "labelExpr": "datum.value == 0.001 ? '10⁻³' : datum.value == 0.0001 ? '10⁻⁴' : datum.value == 0.00001 ? '10⁻⁵' : datum.value == 0.000001 ? '10⁻⁶' : datum.value == 1e-7 ? '10⁻⁷' : ''",
    "tickSize": {"condition": {"test": "abs(log(datum.value)/LN10 - round(log(datum.value)/LN10)) < 0.001", "value": -11}, "value": -6}}},
  "order": {"field": "i", "type": "quantitative"},
  "detail": {"field": "s"},
  "color": {"field": "s", "type": "nominal", "legend": null, "scale": {"domain": ["c1","c2","c3","c4","c5","c6","c7","c8","c9","c10","c11","c12"], "range": ["#5fcf5f","#3fbf4f","#6060e0","#30c8c8","#d050d0","#d8c030","#e08a3a","#a8d040","#40c090","#4878b8","#858585","#707070"]}},
  "strokeDash": {"field": "s", "type": "nominal", "legend": null, "scale": {"domain": ["c1","c2","c3","c4","c5","c6","c7","c8","c9","c10","c11","c12"], "range": [[6,3,2,3],[6,4],[2,3],[5,3],[1,0],[6,4],[6,3,2,3],[2,3],[2,3],[1,0],[6,4],[2,3]]}}
 }
},
{
 "data": {"name": "mdl"},
 "transform": [{"filter": "datum.g == 'pl'"}],
 "mark": {"type": "line", "clip": true, "strokeWidth": 1.5, "color": "#c83030", "strokeDash": [8,5]},
 "encoding": {
  "x": {"field": "x", "type": "quantitative", "scale": {"type": "log", "domain": [0.418, 114], "nice": false},
   "axis": {"orient": "top", "labels": false, "title": null, "tickCount": 30,
    "tickSize": {"condition": {"test": "abs(log(datum.value)/LN10 - round(log(datum.value)/LN10)) < 0.001", "value": -13}, "value": -7}}},
  "y": {"field": "y", "type": "quantitative", "scale": {"type": "log", "domain": [7.3e-8, 7.16e-3], "nice": false},
   "axis": {"orient": "right", "labels": false, "title": null, "tickCount": 30,
    "tickSize": {"condition": {"test": "abs(log(datum.value)/LN10 - round(log(datum.value)/LN10)) < 0.001", "value": -10}, "value": -5}}},
  "order": {"field": "i", "type": "quantitative"},
  "detail": {"field": "s"}
 }
},
{
 "data": {"name": "mdl"},
 "transform": [{"filter": "datum.g == 'abs'"}],
 "mark": {"type": "line", "clip": true, "strokeWidth": 1.5, "color": "#8a3cd0", "strokeDash": [8,5], "interpolate": "step-after"},
 "encoding": {
  "x": {"field": "x", "type": "quantitative", "scale": {"type": "log", "domain": [0.418, 114], "nice": false}, "axis": null},
  "y": {"field": "y", "type": "quantitative", "scale": {"type": "log", "domain": [7.3e-8, 7.16e-3], "nice": false}, "axis": null},
  "order": {"field": "i", "type": "quantitative"},
  "detail": {"field": "s"}
 }
},
{
 "data": {"name": "mdl"},
 "transform": [{"filter": "datum.g == 'ref'"}],
 "mark": {"type": "line", "clip": true, "strokeWidth": 1.5, "color": "#d04090", "strokeDash": [8,4,2,4], "interpolate": "step-after"},
 "encoding": {
  "x": {"field": "x", "type": "quantitative", "scale": {"type": "log", "domain": [0.418, 114], "nice": false}, "axis": null},
  "y": {"field": "y", "type": "quantitative", "scale": {"type": "log", "domain": [7.3e-8, 7.16e-3], "nice": false}, "axis": null},
  "order": {"field": "i", "type": "quantitative"},
  "detail": {"field": "s"}
 }
},
{
 "data": {"name": "mdl"},
 "transform": [{"filter": "datum.g == 'tot'"}],
 "mark": {"type": "line", "clip": true, "strokeWidth": 1.7, "color": "#22c022"},
 "encoding": {
  "x": {"field": "x", "type": "quantitative", "scale": {"type": "log", "domain": [0.418, 114], "nice": false}, "axis": null},
  "y": {"field": "y", "type": "quantitative", "scale": {"type": "log", "domain": [7.3e-8, 7.16e-3], "nice": false}, "axis": null},
  "order": {"field": "i", "type": "quantitative"},
  "detail": {"field": "s"}
 }
},
{
 "data": {"name": "pts"},
 "mark": {"type": "rule", "strokeWidth": 2, "color": "#b83c3c", "opacity": 0.75},
 "encoding": {
  "x": {"field": "x", "type": "quantitative", "scale": {"type": "log", "domain": [0.418, 114], "nice": false}, "axis": null},
  "y": {"field": "lo", "type": "quantitative", "scale": {"type": "log", "domain": [7.3e-8, 7.16e-3], "nice": false}, "axis": null},
  "y2": {"field": "hi"}
 }
},
{
 "data": {"name": "pts"},
 "transform": [{"filter": "isValid(datum.xl)"}],
 "mark": {"type": "rule", "strokeWidth": 2.5, "color": "#c05a5a", "opacity": 0.75},
 "encoding": {
  "x": {"field": "xl", "type": "quantitative", "scale": {"type": "log", "domain": [0.418, 114], "nice": false}, "axis": null},
  "x2": {"field": "xh"},
  "y": {"field": "y", "type": "quantitative", "scale": {"type": "log", "domain": [7.3e-8, 7.16e-3], "nice": false}, "axis": null}
 }
},
{
 "data": {"name": "pts"},
 "mark": {"type": "point", "filled": true, "size": 60, "color": "#d00000", "opacity": 1},
 "encoding": {
  "x": {"field": "x", "type": "quantitative", "scale": {"type": "log", "domain": [0.418, 114], "nice": false}, "axis": null},
  "y": {"field": "y", "type": "quantitative", "scale": {"type": "log", "domain": [7.3e-8, 7.16e-3], "nice": false}, "axis": null}
 }
},
{
 "data": {"name": "lbl"},
 "mark": {"type": "text", "align": "left", "baseline": "alphabetic", "font": "Liberation Serif", "fontSize": 48, "color": "#ff0000"},
 "encoding": {
  "x": {"field": "x", "type": "quantitative", "scale": {"type": "log", "domain": [0.418, 114], "nice": false}, "axis": null},
  "y": {"field": "y", "type": "quantitative", "scale": {"type": "log", "domain": [7.3e-8, 7.16e-3], "nice": false}, "axis": null},
  "text": {"field": "t"}
 }
},
{
 "data": {"name": "sub"},
 "mark": {"type": "text", "align": "left", "baseline": "alphabetic", "font": "Liberation Serif", "fontSize": 28, "color": "#ff0000"},
 "encoding": {
  "x": {"field": "x", "type": "quantitative", "scale": {"type": "log", "domain": [0.418, 114], "nice": false}, "axis": null},
  "y": {"field": "y", "type": "quantitative", "scale": {"type": "log", "domain": [7.3e-8, 7.16e-3], "nice": false}, "axis": null},
  "text": {"field": "t"}
 }
}
],
"resolve": {"axis": {"x": "independent", "y": "independent"}}
}
